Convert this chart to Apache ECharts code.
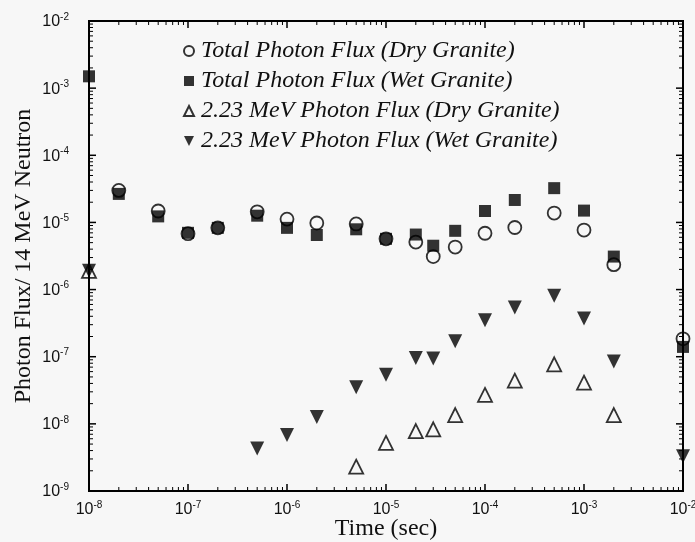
<!DOCTYPE html>
<html><head><meta charset="utf-8">
<script src="https://cdn.jsdelivr.net/npm/echarts@6/dist/echarts.min.js"></script>
<style>html,body{margin:0;padding:0;background:#f7f7f7}#c{width:695px;height:542px}</style>
</head><body><div id="c"></div>
<script>
const times = [1e-8, 2e-8, 5e-8, 1e-7, 2e-7, 5e-7, 1e-6, 2e-6, 5e-6, 1e-5, 2e-5, 3e-5, 5e-5, 1e-4, 2e-4, 5e-4, 1e-3, 2e-3, 1e-2];
const totalDry = [null, 3.0e-5, 1.48e-5, 6.8e-6, 8.3e-6, 1.44e-5, 1.12e-5, 9.8e-6, 9.5e-6, 5.7e-6, 5.1e-6, 3.1e-6, 4.3e-6, 6.9e-6, 8.4e-6, 1.38e-5, 7.7e-6, 2.35e-6, 1.85e-7];
const totalWet = [1.5e-3, 2.66e-5, 1.23e-5, 7.0e-6, 8.3e-6, 1.26e-5, 8.3e-6, 6.5e-6, 7.9e-6, 5.7e-6, 6.6e-6, 4.5e-6, 7.5e-6, 1.48e-5, 2.16e-5, 3.24e-5, 1.5e-5, 3.1e-6, 1.4e-7];
const mevDry = [1.9e-6, null, null, null, null, null, null, null, 2.3e-9, 5.2e-9, 7.8e-9, 8.3e-9, 1.35e-8, 2.7e-8, 4.4e-8, 7.7e-8, 4.1e-8, 1.35e-8, null];
const mevWet = [1.9e-6, null, null, null, null, 4.3e-9, 6.8e-9, 1.26e-8, 3.5e-8, 5.4e-8, 9.6e-8, 9.4e-8, 1.7e-7, 3.5e-7, 5.4e-7, 8.1e-7, 3.7e-7, 8.5e-8, 3.3e-9];
const seriesNames = ['Total Photon Flux (Dry Granite)', 'Total Photon Flux (Wet Granite)', '2.23 MeV Photon Flux (Dry Granite)', '2.23 MeV Photon Flux (Wet Granite)'];
const xMin = 1e-8, xMax = 1e-2, yMin = 1e-9, yMax = 1e-2;

function tickVals(lo, hi) {
  const out = [];
  const e0 = Math.round(Math.log10(lo)), e1 = Math.round(Math.log10(hi));
  for (let e = e0; e <= e1; e++) {
    out.push({ v: Math.pow(10, e), major: 1 });
    if (e < e1) for (let m = 2; m <= 9; m++) out.push({ v: m * Math.pow(10, e), major: 0 });
  }
  return out;
}
function pair(d) { return times.map((t, i) => d[i] == null ? null : [t, d[i]]).filter(p => p); }
const lab = v => '{b|10}{s|' + Math.round(Math.log10(v)) + '}';
const rich = { b: { fontSize: 16, fontFamily: 'Liberation Sans', color: '#111', lineHeight: 18, verticalAlign: 'bottom' }, s: { fontSize: 10, fontFamily: 'Liberation Sans', color: '#111', lineHeight: 18, verticalAlign: 'top', padding: [0, 0, 6, 0] } };

function tickSeries(isX) {
  const vals = tickVals(isX ? xMin : yMin, isX ? xMax : yMax);
  return {
    type: 'custom', silent: true, clip: false, z: 5,
    data: vals.map(t => isX ? [t.v, yMin, t.major] : [xMin, t.v, t.major]),
    renderItem: function (params, api) {
      const major = api.value(2) === 1;
      const len = major ? 7 : 4;
      const style = { stroke: '#000', lineWidth: major ? 1.5 : 1 };
      if (isX) {
        const v = api.value(0);
        const a = api.coord([v, yMin]), b = api.coord([v, yMax]);
        return { type: 'group', children: [
          { type: 'line', shape: { x1: a[0], y1: a[1], x2: a[0], y2: a[1] - len }, style: style },
          { type: 'line', shape: { x1: b[0], y1: b[1], x2: b[0], y2: b[1] + len }, style: style }
        ] };
      }
      const v = api.value(1);
      const a = api.coord([xMin, v]), b = api.coord([xMax, v]);
      return { type: 'group', children: [
        { type: 'line', shape: { x1: a[0], y1: a[1], x2: a[0] + len, y2: a[1] }, style: style },
        { type: 'line', shape: { x1: b[0], y1: b[1], x2: b[0] - len, y2: b[1] }, style: style }
      ] };
    }
  };
}

const chart = echarts.init(document.getElementById('c'));
chart.setOption({
  backgroundColor: '#f7f7f7',
  animation: false,
  grid: { left: 89, right: 12, top: 21, bottom: 51, outerBoundsMode: 'none', show: true, borderColor: '#000', borderWidth: 2, backgroundColor: 'transparent' },
  xAxis: {
    type: 'log', min: xMin, max: xMax, splitLine: { show: false },
    axisLine: { show: true, lineStyle: { color: '#000', width: 2 } }, axisTick: { show: false },
    axisLabel: { formatter: lab, rich: rich, margin: 9 },
    name: 'Time (sec)', nameLocation: 'middle', nameGap: 26, nameMoveOverlap: false,
    nameTextStyle: { fontFamily: 'Liberation Serif', fontSize: 24, color: '#111' }
  },
  yAxis: {
    type: 'log', min: yMin, max: yMax, splitLine: { show: false },
    axisLine: { show: true, lineStyle: { color: '#000', width: 2 } }, axisTick: { show: false },
    axisLabel: { formatter: lab, rich: rich, margin: 20 },
    name: 'Photon Flux/ 14 MeV Neutron', nameLocation: 'middle', nameGap: 53, nameMoveOverlap: false,
    nameTextStyle: { fontFamily: 'Liberation Serif', fontSize: 24, color: '#111' }
  },
  legend: {
    orient: 'vertical', left: 178, top: 34, itemGap: 6, itemWidth: 10, itemHeight: 10,
    textStyle: { fontFamily: 'Liberation Serif', fontStyle: 'italic', fontSize: 24, color: '#111', padding: [0, 0, 0, 2] },
    data: [
      { name: seriesNames[0], icon: 'circle' },
      { name: seriesNames[1], icon: 'rect' },
      { name: seriesNames[2], icon: 'triangle' },
      { name: seriesNames[3], icon: 'path://M0,0L10,0L5,10Z' }
    ]
  },
  series: [
    tickSeries(true),
    tickSeries(false),
    { name: seriesNames[0], type: 'scatter', z: 6, data: pair(totalDry), symbol: 'circle', symbolSize: 13,
      itemStyle: { color: 'rgba(247,247,247,0)', borderColor: '#000', borderWidth: 1.8 } },
    { name: seriesNames[1], type: 'scatter', z: 6, data: pair(totalWet), symbol: 'rect', symbolSize: 12,
      itemStyle: { color: '#000' } },
    { name: seriesNames[2], type: 'scatter', z: 6, data: pair(mevDry), symbol: 'triangle', symbolSize: 14,
      itemStyle: { color: 'rgba(247,247,247,0)', borderColor: '#000', borderWidth: 1.8 } },
    { name: seriesNames[3], type: 'scatter', z: 6, data: pair(mevWet), symbol: 'triangle', symbolRotate: 180, symbolSize: 14,
      itemStyle: { color: '#000' } }
  ]
});
</script></body></html>
